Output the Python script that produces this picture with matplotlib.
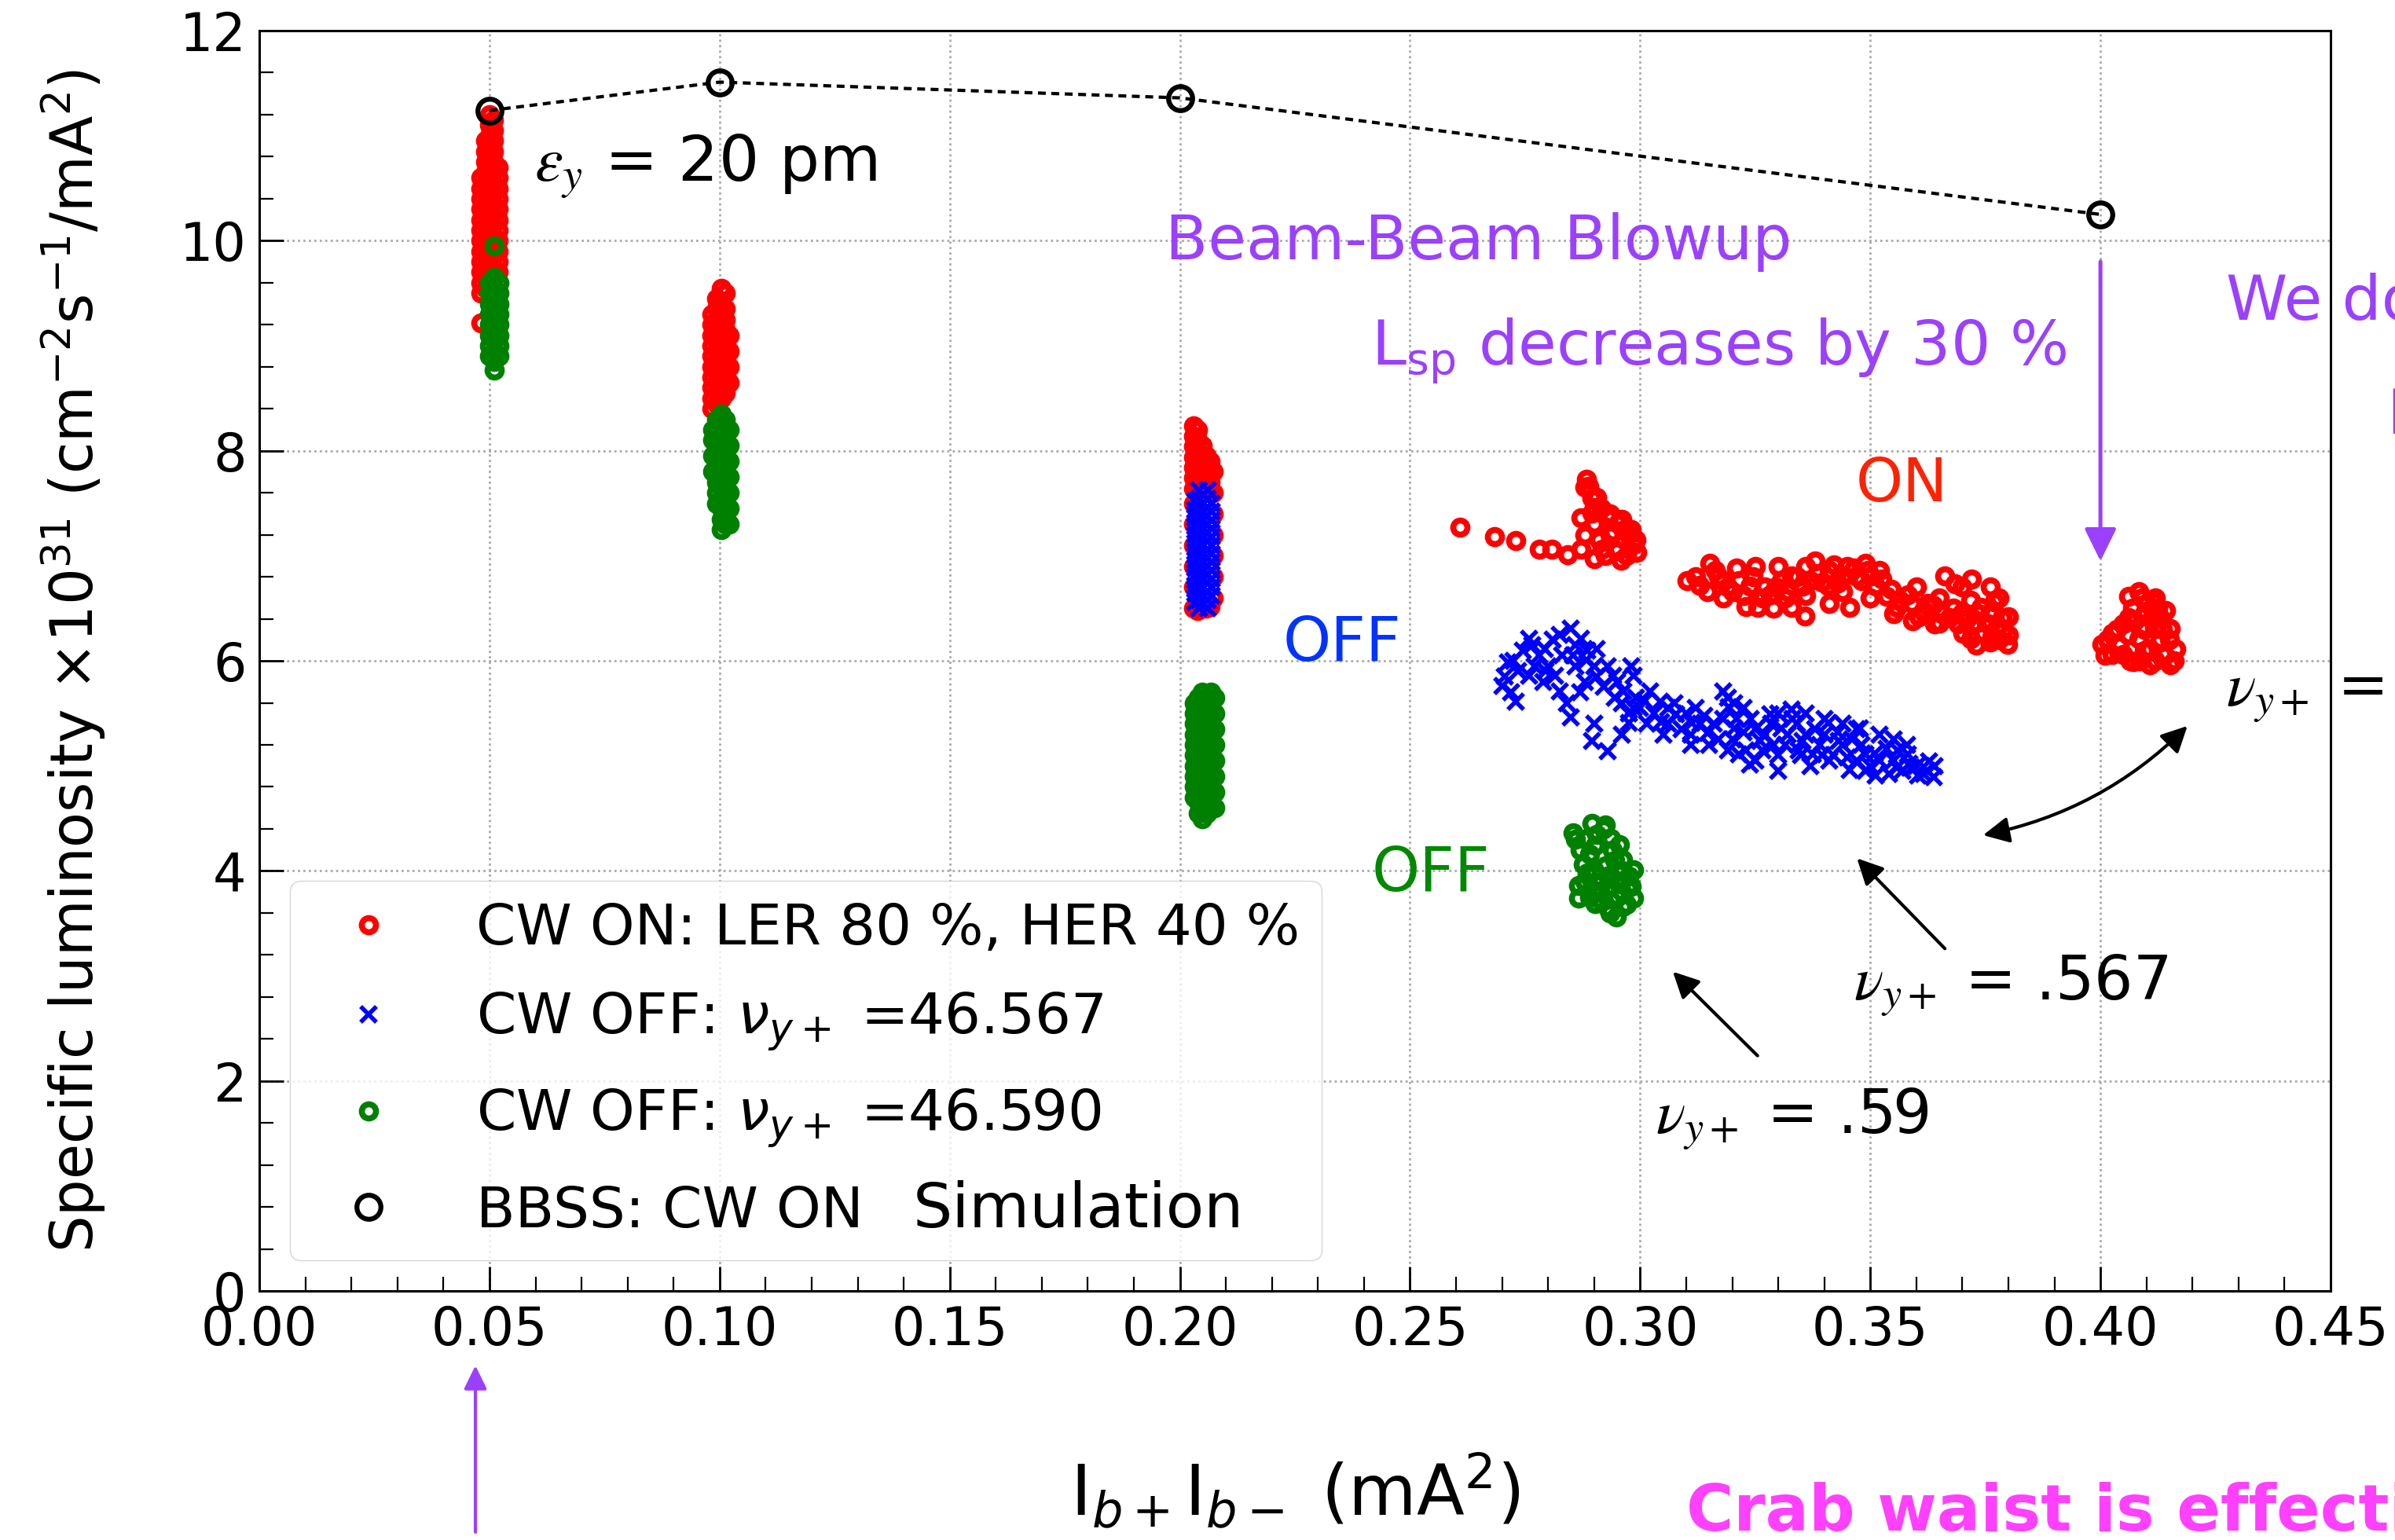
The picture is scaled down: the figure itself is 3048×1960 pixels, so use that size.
import matplotlib
matplotlib.use('Agg')
import matplotlib.pyplot as plt
from matplotlib.ticker import MultipleLocator

# ---------------- data ----------------
# vertical bands: column x positions and the y values in each column
on_band_x = [0.0482, 0.0491, 0.0500, 0.0509, 0.0518,
             0.0983, 0.0993, 0.1003, 0.1013, 0.1021,
             0.2030, 0.2039, 0.2048, 0.2057, 0.2066, 0.2073]
on_band_y = [
    [10.6, 10.5, 10.4, 10.3, 10.2, 10.1, 10.0, 9.9, 9.8, 9.7, 9.6, 9.5, 9.22],
    [10.95, 10.85, 10.75, 10.65, 10.55, 10.45, 10.35, 10.25, 10.15, 10.05, 9.95, 9.85, 9.75, 9.65, 9.55],
    [11.2, 11.1, 11.0, 10.9, 10.8, 10.7, 10.6, 10.5, 10.4, 10.3, 10.2, 10.1, 10.0, 9.9, 9.8, 9.7],
    [11.15, 11.05, 10.95, 10.85, 10.75, 10.65, 10.55, 10.45, 10.35, 10.25, 10.15, 10.05, 9.95, 9.85, 9.75],
    [10.7, 10.6, 10.5, 10.4, 10.3, 10.2, 10.1, 10.0, 9.9, 9.8, 9.7, 9.22],
    [9.3, 9.2, 9.1, 9.0, 8.9, 8.8, 8.7, 8.6, 8.5, 8.4],
    [9.45, 9.35, 9.25, 9.15, 9.05, 8.95, 8.85, 8.75, 8.65, 8.55, 8.45],
    [9.55, 9.42, 9.3, 9.2, 9.1, 9.0, 8.9, 8.8, 8.7, 8.6, 8.5],
    [9.5, 9.35, 9.25, 9.15, 9.05, 8.95, 8.85, 8.75, 8.65, 8.55],
    [9.1, 8.95, 8.8, 8.65],
    [8.24, 8.14, 8.04, 7.94, 7.84, 7.74, 7.64, 7.5, 7.3, 7.1, 6.9, 6.7, 6.5],
    [8.2, 8.1, 8.0, 7.9, 7.8, 7.7, 7.6, 6.48],
    [8.05, 7.95, 7.85, 7.75, 7.65, 6.5],
    [7.95, 7.85, 7.75, 7.65, 6.5],
    [7.9, 7.8, 7.7, 7.6, 6.52],
    [7.8, 7.6, 7.4, 7.2, 7.0, 6.8, 6.6],
]
# CW ON, scattered part (x, y)
on_pts = [
    (0.2609, 7.27), (0.2683, 7.18), (0.2729, 7.145), (0.2781, 7.06), (0.2809, 7.06),
    (0.2843, 7.01), (0.2872, 7.06), (0.2901, 6.97), (0.2883, 7.73), (0.2889, 7.66),
    (0.2906, 7.56), (0.2895, 7.41), (0.2929, 7.36), (0.2952, 7.31), (0.2941, 7.23),
    (0.2963, 7.16), (0.2986, 7.11), (0.2992, 7.03), (0.2958, 6.96), (0.2918, 7.06),
    (0.2872, 7.36), (0.2901, 7.46), (0.2935, 7.20), (0.2910, 7.15), (0.2965, 7.25),
    (0.2900, 7.30), (0.2950, 7.05), (0.2975, 7.20), (0.2880, 7.65), (0.2895, 7.55),
    (0.2915, 7.45), (0.2935, 7.40), (0.2960, 7.35), (0.2980, 7.25), (0.2880, 7.20),
    (0.2925, 7.00), (0.2970, 7.00), (0.2990, 7.15),
    (0.3101, 6.76), (0.3129, 6.72), (0.3152, 6.93), (0.3163, 6.86), (0.3181, 6.76),
    (0.3146, 6.66), (0.3215, 6.76), (0.3238, 6.71), (0.3255, 6.51), (0.3283, 6.63),
    (0.3306, 6.76), (0.3329, 6.81), (0.3352, 6.71), (0.3358, 6.43), (0.3329, 6.51),
    (0.3386, 6.83), (0.3421, 6.91), (0.3409, 6.71), (0.3443, 6.81), (0.3466, 6.88),
    (0.3489, 6.93), (0.3501, 6.81), (0.3455, 6.51), (0.3512, 6.71), (0.3535, 6.61),
    (0.3558, 6.51), (0.3581, 6.63), (0.3592, 6.38), (0.3615, 6.48), (0.3637, 6.53),
    (0.3661, 6.81), (0.3684, 6.73), (0.3649, 6.36), (0.3672, 6.41), (0.3701, 6.26),
    (0.3718, 6.58), (0.3741, 6.51), (0.3752, 6.36), (0.3764, 6.23), (0.3786, 6.41),
    (0.3798, 6.16), (0.3775, 6.31), (0.3718, 6.21), (0.3200, 6.66), (0.3270, 6.70),
    (0.3320, 6.66), (0.3370, 6.76), (0.3440, 6.66), (0.3480, 6.76), (0.3520, 6.86),
    (0.3700, 6.46), (0.3730, 6.36), (0.3760, 6.46), (0.3790, 6.30), (0.3770, 6.56),
    (0.3120, 6.80), (0.3170, 6.80), (0.3190, 6.70), (0.3225, 6.62), (0.3245, 6.80),
    (0.3265, 6.60), (0.3295, 6.70), (0.3315, 6.60), (0.3340, 6.80), (0.3360, 6.62),
    (0.3395, 6.75), (0.3410, 6.86), (0.3430, 6.74), (0.3450, 6.90), (0.3470, 6.80),
    (0.3495, 6.86), (0.3525, 6.78), (0.3545, 6.68), (0.3565, 6.58), (0.3590, 6.55),
    (0.3605, 6.42), (0.3625, 6.55), (0.3655, 6.45), (0.3680, 6.50), (0.3690, 6.35),
    (0.3710, 6.40), (0.3735, 6.45), (0.3745, 6.26), (0.3780, 6.20), (0.3800, 6.25),
    (0.3760, 6.18), (0.3360, 6.90), (0.3380, 6.95), (0.3300, 6.90), (0.3250, 6.90),
    (0.3210, 6.88), (0.3180, 6.60), (0.3230, 6.52), (0.3290, 6.50), (0.3410, 6.55),
    (0.3500, 6.60), (0.3600, 6.70), (0.3650, 6.60), (0.3700, 6.70), (0.3720, 6.78),
    (0.3760, 6.70), (0.3780, 6.60), (0.3730, 6.15), (0.3800, 6.42), (0.3550, 6.45),
    (0.3640, 6.35),
    (0.4004, 6.16), (0.4026, 6.06), (0.4026, 6.26), (0.4061, 6.61), (0.4084, 6.66),
    (0.4061, 6.41), (0.4084, 6.21), (0.4072, 5.99), (0.4118, 6.56), (0.4141, 6.48),
    (0.4152, 6.31), (0.4164, 6.11), (0.4152, 5.96), (0.4107, 5.96), (0.4118, 6.31),
    (0.4107, 6.11), (0.4049, 6.06), (0.4130, 6.41), (0.4015, 6.20), (0.4040, 6.15),
    (0.4050, 6.35), (0.4070, 6.50), (0.4095, 6.45), (0.4095, 6.30), (0.4095, 6.10),
    (0.4130, 6.20), (0.4140, 6.05), (0.4085, 6.00), (0.4060, 6.25), (0.4120, 6.60),
    (0.4010, 6.05), (0.4035, 6.30), (0.4075, 6.38), (0.4100, 6.55), (0.4110, 6.40),
    (0.4125, 6.50), (0.4135, 6.30), (0.4150, 6.20), (0.4160, 6.00), (0.4120, 6.00),
    (0.4090, 6.60), (0.4065, 6.00),
]

off567_band_x = [0.2033, 0.2042, 0.2051, 0.2060, 0.2069]
off567_band_y = [
    [7.52, 7.44, 7.36, 7.28, 7.2, 7.12, 7.04, 6.96, 6.88, 6.8, 6.72, 6.64, 6.56],
    [7.62, 7.54, 7.46, 7.38, 7.3, 7.22, 7.14, 7.06, 6.98, 6.9, 6.82, 6.74, 6.66, 6.58, 6.5],
    [7.58, 7.5, 7.42, 7.34, 7.26, 7.18, 7.1, 7.02, 6.94, 6.86, 6.78, 6.7, 6.62, 6.54],
    [7.62, 7.54, 7.46, 7.38, 7.3, 7.22, 7.14, 7.06, 6.98, 6.9, 6.82, 6.74, 6.66, 6.58, 6.5],
    [7.5, 7.42, 7.34, 7.26, 7.18, 7.1, 7.02, 6.94, 6.86, 6.78, 6.7, 6.62],
]
off567_pts = [
    (0.2712, 5.985), (0.2701, 5.76), (0.2729, 5.61), (0.2758, 5.86), (0.2758, 6.21),
    (0.2792, 6.11), (0.2815, 5.86), (0.2849, 6.31), (0.2872, 6.21), (0.2849, 5.46),
    (0.2826, 5.71), (0.2883, 6.01), (0.2906, 6.11), (0.2895, 5.24), (0.2929, 5.14),
    (0.2941, 5.86), (0.2963, 5.71), (0.2975, 5.41), (0.2986, 5.86), (0.3021, 5.71),
    (0.3043, 5.61), (0.3078, 5.49), (0.3112, 5.41), (0.3146, 5.31), (0.3181, 5.71),
    (0.3192, 5.56), (0.3204, 5.36), (0.3215, 5.11), (0.3238, 5.01), (0.3261, 5.24),
    (0.3283, 5.49), (0.3306, 5.36), (0.3329, 5.54), (0.3352, 5.24), (0.3375, 5.11),
    (0.3409, 5.41), (0.3432, 5.24), (0.3455, 4.96), (0.3478, 5.36), (0.3489, 5.11),
    (0.3512, 4.91), (0.3535, 5.16), (0.3558, 4.98), (0.3581, 5.11), (0.3604, 4.91),
    (0.3627, 5.04), (0.3638, 4.89),
    (0.2735, 5.90), (0.2770, 5.95), (0.2780, 6.05), (0.2800, 5.95), (0.2830, 6.05),
    (0.2860, 6.15), (0.2860, 5.95), (0.2880, 5.80), (0.2900, 5.95), (0.2920, 5.75),
    (0.2950, 5.80), (0.2960, 5.60), (0.2990, 5.65), (0.3000, 5.55), (0.3030, 5.50),
    (0.3060, 5.55), (0.3060, 5.40), (0.3090, 5.35), (0.3100, 5.50), (0.3130, 5.40),
    (0.3160, 5.40), (0.3170, 5.25), (0.3200, 5.25), (0.3210, 5.45), (0.3230, 5.15),
    (0.3250, 5.35), (0.3270, 5.30), (0.3290, 5.20), (0.3320, 5.30), (0.3340, 5.40),
    (0.3360, 5.30), (0.3390, 5.20), (0.3400, 5.30), (0.3420, 5.10), (0.3440, 5.20),
    (0.3470, 5.05), (0.3500, 5.00), (0.3520, 5.05), (0.3550, 5.05), (0.3570, 4.95),
    (0.3600, 5.00), (0.3625, 4.95), (0.2720, 5.70), (0.2745, 6.10), (0.2790, 5.80),
    (0.2810, 6.20), (0.2840, 5.60), (0.2870, 5.70), (0.2930, 5.95), (0.2975, 5.50),
    (0.3015, 5.40), (0.3120, 5.55), (0.3150, 5.20), (0.3180, 5.45), (0.3240, 5.45),
    (0.3300, 5.10), (0.3345, 5.15), (0.3380, 5.35), (0.3410, 5.05), (0.3460, 5.25),
    (0.3490, 4.95), (0.3540, 4.92), (0.3590, 4.98),
    (0.2705, 5.85), (0.2725, 6.00), (0.2765, 6.15), (0.2795, 5.90), (0.2825, 6.25),
    (0.2855, 6.05), (0.2885, 6.10), (0.2905, 5.85), (0.2945, 5.65), (0.2985, 5.55),
    (0.3010, 5.62), (0.3045, 5.42), (0.3075, 5.60), (0.3110, 5.30), (0.3140, 5.48),
    (0.3190, 5.15), (0.3225, 5.32), (0.3265, 5.15), (0.3285, 5.40), (0.3315, 5.20),
    (0.3350, 5.10), (0.3395, 5.10), (0.3430, 5.32), (0.3450, 5.08), (0.3480, 5.20),
    (0.3510, 5.12), (0.3560, 5.15), (0.3585, 5.02), (0.3615, 4.92), (0.3640, 5.00),
    (0.3190, 5.65), (0.3205, 5.60), (0.3225, 5.55), (0.3300, 5.50), (0.3330, 5.45),
    (0.3360, 5.50), (0.3400, 5.45), (0.3440, 5.40), (0.3470, 5.35), (0.3520, 5.30),
    (0.3550, 5.25), (0.3580, 5.20), (0.2980, 5.95), (0.2900, 5.40), (0.2960, 5.30),
    (0.3050, 5.30), (0.3110, 5.20), (0.3250, 5.05), (0.3300, 4.95), (0.3370, 5.00),
]

off590_band_x = [0.0500, 0.0510, 0.0520, 0.0510,
                 0.0985, 0.0993, 0.1003, 0.1013, 0.1020,
                 0.2031, 0.2040, 0.2049, 0.2058, 0.2067, 0.2075]
off590_band_y = [
    [9.6, 9.5, 9.4, 9.3, 9.2, 9.1, 9.0, 8.9],
    [9.65, 9.55, 9.45, 9.35, 9.25, 9.15, 9.05, 8.95, 8.85, 8.77],
    [9.6, 9.5, 9.4, 9.3, 9.2, 9.1, 9.0, 8.9],
    [9.95],
    [8.2, 8.1, 7.95, 7.8],
    [8.3, 8.2, 8.1, 8.0, 7.9, 7.8, 7.7, 7.6, 7.5],
    [8.35, 8.25, 8.15, 8.05, 7.95, 7.85, 7.75, 7.65, 7.55, 7.45, 7.35, 7.25],
    [8.3, 8.2, 8.1, 8.0, 7.9, 7.8, 7.7, 7.6, 7.5, 7.4, 7.3],
    [8.2, 8.05, 7.9, 7.75, 7.6, 7.45, 7.3],
    [5.6, 5.5, 5.4, 5.3, 5.2, 5.1, 5.0, 4.9, 4.8, 4.7],
    [5.65, 5.55, 5.45, 5.35, 5.25, 5.15, 5.05, 4.95, 4.85, 4.75, 4.65, 4.55],
    [5.7, 5.6, 5.5, 5.4, 5.3, 5.2, 5.1, 5.0, 4.9, 4.8, 4.7, 4.6, 4.5],
    [5.65, 5.55, 5.45, 5.35, 5.25, 5.15, 5.05, 4.95, 4.85, 4.75, 4.65, 4.55],
    [5.7, 5.6, 5.5, 5.4, 5.3, 5.2, 5.1, 5.0, 4.9, 4.8, 4.7, 4.6],
    [5.65, 5.5, 5.35, 5.2, 5.05, 4.9, 4.75, 4.6],
]
off590_pts = [
    (0.2854, 4.36), (0.2925, 4.44), (0.2902, 4.24), (0.2962, 4.11), (0.2877, 4.06),
    (0.2985, 4.01), (0.2867, 3.86), (0.2913, 3.81), (0.2973, 3.84), (0.2985, 3.74),
    (0.2902, 3.69), (0.2949, 3.56), (0.2890, 4.16), (0.2937, 4.31), (0.2937, 3.94),
    (0.2867, 3.74), (0.2962, 3.66), (0.2880, 4.30), (0.2900, 4.00), (0.2925, 4.05),
    (0.2950, 3.90), (0.2915, 3.90), (0.2890, 3.75), (0.2930, 3.65), (0.2960, 3.80),
    (0.2870, 4.20), (0.2940, 4.20), (0.2975, 3.95), (0.2920, 4.40),
    (0.2860, 4.30), (0.2905, 4.35), (0.2895, 4.45), (0.2945, 4.10), (0.2930, 3.95),
    (0.2960, 4.00), (0.2880, 3.90), (0.2905, 3.80), (0.2950, 3.75), (0.2970, 3.68),
    (0.2935, 3.60), (0.2915, 3.72), (0.2885, 3.98), (0.2955, 4.25), (0.2980, 3.85),
]

# BBSS simulation
bbss_x = [0.05, 0.10, 0.20, 0.40]
bbss_y = [11.24, 11.51, 11.36, 10.25]


def collect(cols, ys, pts):
    xs, yy = [], []
    for c, col in zip(cols, ys):
        xs += [c] * len(col)
        yy += col
    xs += [p[0] for p in pts]
    yy += [p[1] for p in pts]
    return xs, yy


on_x, on_y = collect(on_band_x, on_band_y, on_pts)
b_x, b_y = collect(off567_band_x, off567_band_y, off567_pts)
g_x, g_y = collect(off590_band_x, off590_band_y, off590_pts)

purple = '#9B40FF'

fig = plt.figure(figsize=(30.48, 19.6), dpi=100)
ax = fig.add_axes([0.1083, 0.1617, 0.8648, 0.8184])

ax.plot(on_x, on_y, ls='none', marker='o', mfc='none', mec='red', ms=13, mew=5.5,
        label='CW ON: LER 80 %, HER 40 %')
ax.plot(b_x, b_y, ls='none', marker='x', color='blue', ms=15, mew=4,
        label=r'CW OFF: $\nu_{y+}$ =46.567')
ax.plot(g_x, g_y, ls='none', marker='o', mfc='none', mec='green', ms=13, mew=5.5,
        label=r'CW OFF: $\nu_{y+}$ =46.590')
ax.plot(bbss_x, bbss_y, color='k', lw=3, ls=(0, (2.4, 1.7)), zorder=4)
ax.plot(bbss_x, bbss_y, ls='none', marker='o', mfc='none', mec='k', ms=22, mew=4.5,
        label='BBSS: CW ON', zorder=5)

ax.set_xlim(0, 0.45)
ax.set_ylim(0, 12)
ax.xaxis.set_major_locator(MultipleLocator(0.05))
ax.xaxis.set_minor_locator(MultipleLocator(0.01))
ax.yaxis.set_major_locator(MultipleLocator(2))
ax.yaxis.set_minor_locator(MultipleLocator(0.4))
ax.xaxis.set_major_formatter(matplotlib.ticker.FormatStrFormatter('%.2f'))
ax.tick_params(which='major', direction='in', length=22, width=2, labelsize=48, pad=12)
ax.tick_params(which='minor', direction='in', length=13, width=1.6)
for s in ax.spines.values():
    s.set_linewidth(2.2)
ax.grid(True, which='major', ls=(0, (1, 1.5)), color='#aaaaaa', lw=2)

ax.set_xlabel(r'I$_{b+}$I$_{b-}$ (mA$^2$)', fontsize=64, labelpad=88)
ax.set_ylabel(r'Specific luminosity $\times$10$^{31}$ (cm$^{-2}$s$^{-1}$/mA$^2$)',
              fontsize=53, labelpad=66)

leg = ax.legend(loc='lower left', bbox_to_anchor=(0.0148, 0.0243), borderaxespad=0,
                fontsize=52, borderpad=0.38, handlelength=2.0, handletextpad=0.9,
                labelspacing=0.6, numpoints=1)
leg.set_zorder(6)
ax.text(0.1419, 0.606, 'Simulation', fontsize=57, zorder=10)

# annotations
ax.text(0.0597, 10.57, r'$\varepsilon_y$ = 20 pm', fontsize=58, math_fontfamily='stix')
ax.text(0.1968, 9.82, 'Beam-Beam Blowup', fontsize=57, color=purple)
ax.text(0.2416, 8.81, r'L$_{\mathrm{sp}}$ decreases by 30 %', fontsize=57, color=purple)
ax.text(0.4273, 9.25, "We do", fontsize=57, color=purple)
ax.text(0.4621, 8.16, "L", fontsize=57, color=purple)
ax.text(0.4635, 6.79, "(", fontsize=57, color=purple)
ax.text(0.3469, 7.52, 'ON', fontsize=55, color='#FF2200')
ax.text(0.2224, 6.0, 'OFF', fontsize=56, color='#0033FF')
ax.text(0.2417, 3.81, 'OFF', fontsize=56, color='#008800')
ax.text(0.3464, 2.77, r'$\nu_{y+}$ = .567', fontsize=56, math_fontfamily='stix')
ax.text(0.3033, 1.50, r'$\nu_{y+}$ = .59', fontsize=56, math_fontfamily='stix')
ax.text(0.4273, 5.57, r'$\nu_{y+}$ =', fontsize=56, math_fontfamily='stix')

black_arrow = dict(arrowstyle='-|>,head_length=0.5,head_width=0.25', color='k', lw=3,
                   mutation_scale=40, shrinkA=0, shrinkB=0)
ax.annotate('', xy=(0.3471, 4.12), xytext=(0.3662, 3.26), arrowprops=black_arrow)
ax.annotate('', xy=(0.3071, 3.04), xytext=(0.3255, 2.24), arrowprops=black_arrow)
ax.annotate('', xy=(0.4189, 5.38), xytext=(0.3745, 4.34),
            arrowprops=dict(arrowstyle='<|-|>,head_length=0.5,head_width=0.25', color='k',
                            lw=3, mutation_scale=40, shrinkA=0, shrinkB=0,
                            connectionstyle='arc3,rad=0.15'))
ax.annotate('', xy=(0.40, 6.95), xytext=(0.40, 9.80),
            arrowprops=dict(arrowstyle='-|>,head_length=0.63,head_width=0.31', color=purple,
                            lw=3.6, mutation_scale=40, shrinkA=0, shrinkB=0))
fig.add_artist(matplotlib.patches.FancyArrowPatch(
    (0.1985, 0.0051), (0.1985, 0.1133), transform=fig.transFigure,
    arrowstyle='-|>,head_length=0.45,head_width=0.22', color=purple, lw=3,
    mutation_scale=40, shrinkA=0, shrinkB=0))

fig.text(0.7041, 0.0061, 'Crab waist is effective', fontsize=59, fontweight='bold',
         color='#FF40FF')

fig.savefig('out.png', dpi=100)
